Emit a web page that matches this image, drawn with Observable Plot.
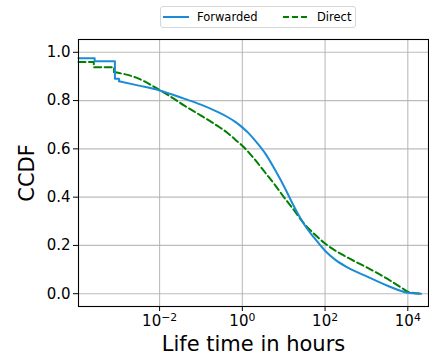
<!DOCTYPE html>
<html>
<head>
<meta charset="utf-8">
<script src="https://cdn.jsdelivr.net/npm/d3@7"></script>
<script src="https://cdn.jsdelivr.net/npm/@observablehq/plot@0.6"></script>
<style>
  html, body { margin: 0; padding: 0; background: white; }
  #wrap { position: relative; width: 429px; height: 356px; font-family: "DejaVu Sans", sans-serif; }
  #legend { position: absolute; left: 160px; top: 6px; width: 196px; height: 22px; box-sizing: border-box;
            border: 1px solid #d6d6d6; border-radius: 3px; background: rgba(255,255,255,0.8);
            font-size: 11.5px; color: #000; }
  #legend .item { position: absolute; top: 0; height: 20px; display: flex; align-items: center; }
  #legend svg { display: block; }
  #chart { position: absolute; left: 0; top: 0; }
</style>
</head>
<body>
<div id="wrap">
  <div id="chart"></div>
  <div id="legend"></div>
</div>
<script>
// ---- data: x values are log10(hours), y values are CCDF ----
const fwdLogHours = [-3.96, -3.57, -3.57, -3.08, -3.08, -2.98, -2.98, -2.5, -2.0, -1.41, -1.0, -0.6, -0.37, -0.17, 0.0, 0.15, 0.31, 0.56, 0.8, 1.04, 1.2, 1.37, 1.55, 1.74, 2.0, 2.25, 2.54, 3.03, 3.51, 4.0, 4.32];
const fwdCcdf     = [0.975, 0.975, 0.963, 0.963, 0.890, 0.890, 0.880, 0.862, 0.842, 0.808, 0.783, 0.753, 0.733, 0.712, 0.689, 0.665, 0.634, 0.579, 0.510, 0.434, 0.378, 0.323, 0.273, 0.231, 0.178, 0.140, 0.109, 0.070, 0.033, 0.004, 0.0];
const dirLogHours = [-3.96, -3.59, -3.59, -3.10, -3.10, -2.58, -2.0, -1.73, -1.41, -1.0, -0.6, -0.37, -0.17, 0.0, 0.31, 0.56, 0.8, 1.04, 1.29, 1.41, 1.74, 2.0, 2.54, 3.03, 3.51, 3.9, 4.0, 4.32];
const dirCcdf     = [0.960, 0.960, 0.938, 0.938, 0.918, 0.896, 0.844, 0.816, 0.780, 0.738, 0.695, 0.668, 0.638, 0.613, 0.554, 0.500, 0.448, 0.392, 0.337, 0.308, 0.247, 0.208, 0.150, 0.107, 0.061, 0.019, 0.008, 0.0];
const seriesNames = ["Forwarded", "Direct"];
const seriesColors = ["#1a8cd6", "#008000"];
const xTicks = [-2, 0, 2, 4];
const xTickExponents = ["\u22122", "0", "2", "4"];
const yTicks = [0, 0.2, 0.4, 0.6, 0.8, 1.0];

function rows(ts, ps) { return ts.map((t, i) => ({t, p: ps[i]})); }
// split a series into its stepped head (vertical drops) and its smooth tail
function split(ts, ps) {
  let k = 0;
  for (let i = 1; i < ts.length; i++) if (ts[i] === ts[i - 1]) k = i;
  const all = rows(ts, ps);
  return {head: all.slice(0, k + 1), tail: all.slice(k)};
}
const fwd = split(fwdLogHours, fwdCcdf);
const dir = split(dirLogHours, dirCcdf);

const dashed = {stroke: seriesColors[1], strokeWidth: 2, strokeDasharray: "7,3.5"};
const solid = {stroke: seriesColors[0], strokeWidth: 2};

const chart = Plot.plot({
  width: 429,
  height: 356,
  marginLeft: 78,
  marginRight: 1,
  marginTop: 39,
  marginBottom: 50,
  style: {fontFamily: "DejaVu Sans, sans-serif", fontSize: "15px", background: "white", color: "black"},
  x: {domain: [-3.96, 4.5]},
  y: {domain: [-0.053, 1.053]},
  marks: [
    Plot.gridX(xTicks, {stroke: "#b0b0b0", strokeOpacity: 0.85, strokeWidth: 1.1}),
    Plot.gridY(yTicks, {stroke: "#b0b0b0", strokeOpacity: 0.85, strokeWidth: 1.1}),
    Plot.line(dir.head, {x: "t", y: "p", ...dashed}),
    Plot.line(dir.tail, {x: "t", y: "p", curve: "monotone-x", ...dashed}),
    Plot.line(fwd.head, {x: "t", y: "p", ...solid}),
    Plot.line(fwd.tail, {x: "t", y: "p", curve: "monotone-x", ...solid}),
    Plot.frame({stroke: "black", strokeWidth: 1.1}),
    Plot.axisX(xTicks, {tickSize: 5, tickPadding: 3.5, fontSize: 15, label: null,
      tickFormat: (d) => "10^" + xTickExponents[xTicks.indexOf(d)]}),
    Plot.axisY(yTicks, {tickSize: 5, tickPadding: 3, fontSize: 15, label: null, tickFormat: d3.format(".1f")}),
    Plot.text(["Life time in hours"], {frameAnchor: "bottom", dy: 44, lineAnchor: "bottom", fontSize: 21}),
    Plot.text(["CCDF"], {frameAnchor: "left", dx: -51, rotate: -90, lineAnchor: "middle", textAnchor: "middle", fontSize: 21})
  ]
});

// render exponents as superscripts
d3.select(chart).selectAll('g[aria-label="x-axis tick label"] text').each(function() {
  const s = this.textContent;
  const parts = s.split("^");
  if (parts.length !== 2) return;
  const el = d3.select(this);
  el.text(null);
  el.append("tspan").text(parts[0]);
  el.append("tspan").attr("dy", "-0.42em").attr("font-size", "0.72em").text(parts[1]);
});

document.getElementById("chart").appendChild(chart);

// legend
const legend = document.getElementById("legend");
const items = [
  {name: seriesNames[0], color: seriesColors[0], dash: null, lineLeft: 2, textLeft: 36},
  {name: seriesNames[1], color: seriesColors[1], dash: "6,3", lineLeft: 122, textLeft: 156}
];
for (const it of items) {
  const line = document.createElement("div");
  line.className = "item";
  line.style.left = it.lineLeft + "px";
  line.innerHTML = `<svg width="26" height="6"><line x1="0" x2="26" y1="3" y2="3" stroke="${it.color}" stroke-width="2" ${it.dash ? `stroke-dasharray="${it.dash}"` : ""}/></svg>`;
  legend.appendChild(line);
  const label = document.createElement("div");
  label.className = "item";
  label.style.left = it.textLeft + "px";
  label.textContent = it.name;
  legend.appendChild(label);
}
</script>
</body>
</html>
